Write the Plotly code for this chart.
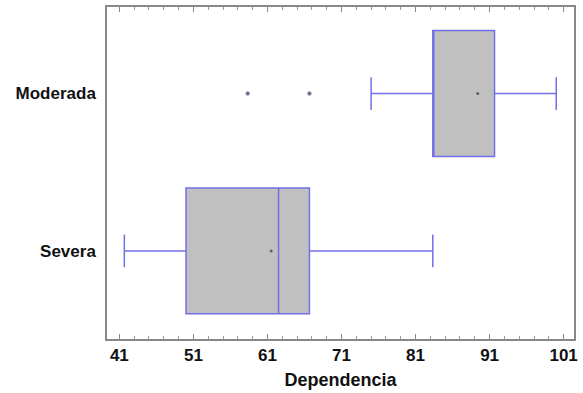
import plotly.graph_objects as go

categories = ["Severa", "Moderada"]
q1 = [50.0, 83.33]
median = [62.5, 83.33]
q3 = [66.67, 91.67]
lower_whisker = [41.67, 75.0]
upper_whisker = [83.33, 100.0]
means = [61.5, 89.4]
outlier_cat = ["Moderada", "Moderada"]
outlier_val = [58.33, 66.67]
x_ticks = [41, 51, 61, 71, 81, 91, 101]

BOX_LINE = "rgb(112,112,232)"
FONT = "Liberation Sans, Arial, sans-serif"
XRANGE = [39.33, 102.4]

fig = go.Figure()
for i, cat in enumerate(categories):
    fig.add_trace(go.Box(
        y=[cat], orientation="h",
        q1=[q1[i]], median=[median[i]], q3=[q3[i]],
        lowerfence=[lower_whisker[i]], upperfence=[upper_whisker[i]],
        width=0.8, whiskerwidth=0.26,
        fillcolor="#c0c0c0",
        line=dict(color=BOX_LINE, width=1.5),
        boxpoints=False, showlegend=False, hoverinfo="skip",
    ))

fig.add_trace(go.Scatter(
    x=means, y=categories, mode="markers",
    marker=dict(size=3, color="#606060"), showlegend=False,
))
fig.add_trace(go.Scatter(
    x=outlier_val, y=outlier_cat, mode="markers",
    marker=dict(size=4, color="#707078", line=dict(width=0.5, color="#a0a0e0")),
    showlegend=False,
))
# invisible trace to anchor the top (mirrored) tick axis
fig.add_trace(go.Scatter(
    x=[XRANGE[0]], y=[categories[0]], xaxis="x2", mode="markers",
    marker=dict(size=0.1, opacity=0), showlegend=False, hoverinfo="skip",
))

tick_style = dict(ticks="inside", ticklen=5, tickcolor="#888888", tickwidth=1,
                  minor=dict(tick0=41, dtick=2, ticks="inside", ticklen=3,
                             tickcolor="#999999", showgrid=False))

fig.update_layout(
    width=583, height=393,
    margin=dict(l=107, r=5, t=7, b=54),
    paper_bgcolor="white", plot_bgcolor="white",
    boxmode="overlay",
    font=dict(family=FONT, size=17, color="#111111", weight="bold"),
    xaxis=dict(
        range=XRANGE,
        tickvals=x_ticks, ticktext=[str(t) for t in x_ticks],
        showline=True, linecolor="#888888", linewidth=1.5,
        showgrid=False, zeroline=False,
        tickfont=dict(family=FONT, size=17, color="#111111", weight="bold"),
        title=dict(text="Dependencia", standoff=9,
                   font=dict(family=FONT, size=18, color="#111111", weight="bold")),
        **tick_style,
    ),
    xaxis2=dict(
        range=XRANGE, overlaying="x", side="top", anchor="y",
        tickvals=x_ticks, showticklabels=False,
        showline=True, linecolor="#888888", linewidth=1.5,
        showgrid=False, zeroline=False,
        **tick_style,
    ),
    yaxis=dict(
        type="category", categoryorder="array", categoryarray=categories,
        range=[-0.56, 1.55],
        showline=True, linecolor="#888888", linewidth=1.5, mirror=True,
        ticks="", showgrid=False, zeroline=False, ticklabelstandoff=6,
        tickfont=dict(family=FONT, size=17, color="#111111", weight="bold"),
    ),
)

fig.write_html("out.html")
